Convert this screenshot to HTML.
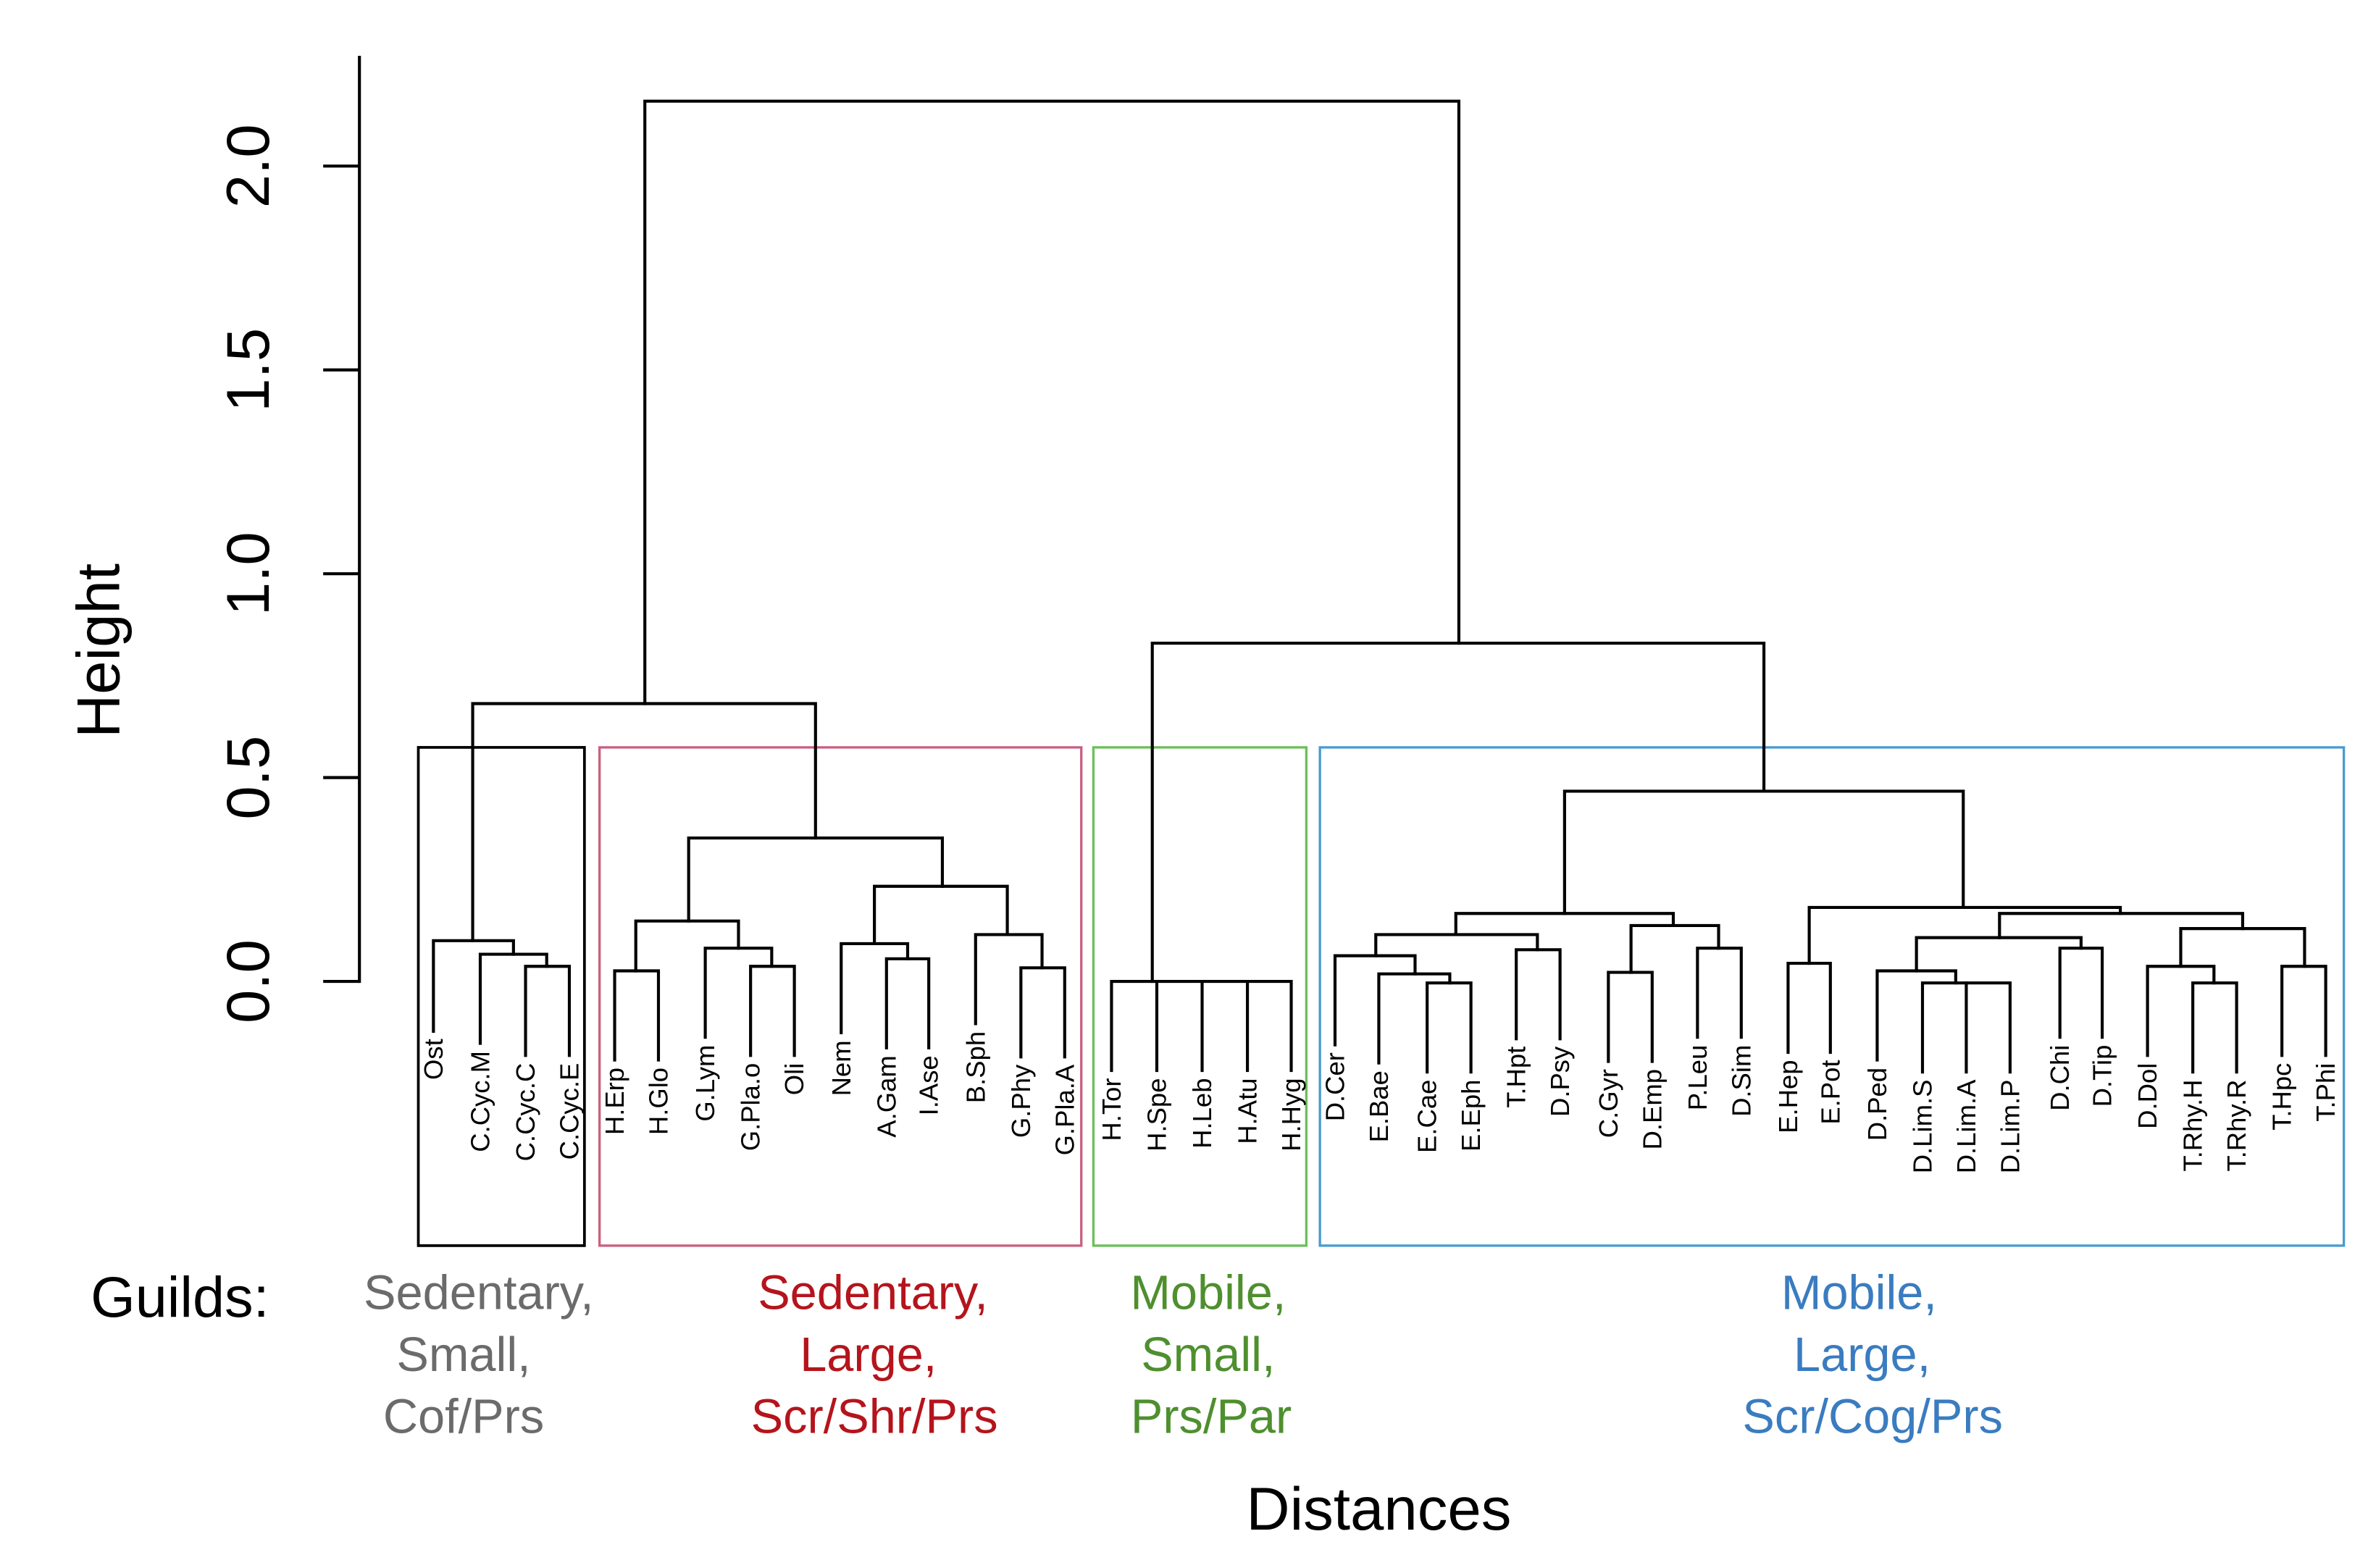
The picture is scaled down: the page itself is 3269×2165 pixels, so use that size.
<!DOCTYPE html>
<html><head><meta charset="utf-8"><style>
html,body{margin:0;padding:0;background:#fff;}
svg{display:block;}
text{font-family:"Liberation Sans",Arial,sans-serif;}
</style></head><body>
<svg width="3269" height="2165" viewBox="0 0 1568 1038.5" preserveAspectRatio="none" xmlns="http://www.w3.org/2000/svg">
<rect width="1568" height="1044" fill="#fff"/>
<!-- axis -->
<g stroke="#000" stroke-width="2" fill="none">
<line x1="238" y1="37" x2="238" y2="651"/>
<line x1="214" y1="650" x2="238" y2="650"/>
<line x1="214" y1="515" x2="238" y2="515"/>
<line x1="214" y1="380" x2="238" y2="380"/>
<line x1="214" y1="245" x2="238" y2="245"/>
<line x1="214" y1="110" x2="238" y2="110"/>
</g>
<g font-size="40" fill="#000" text-anchor="middle">
<text transform="translate(178,650) rotate(-90)">0.0</text>
<text transform="translate(178,515) rotate(-90)">0.5</text>
<text transform="translate(178,380) rotate(-90)">1.0</text>
<text transform="translate(178,245) rotate(-90)">1.5</text>
<text transform="translate(178,110) rotate(-90)">2.0</text>
<text transform="translate(79,431) rotate(-90)" font-size="40">Height</text>
</g>
<!-- boxes -->
<rect x="277" y="495" width="110" height="330" fill="none" stroke="#000" stroke-width="1.8"/>
<rect x="397" y="495" width="319" height="330" fill="none" stroke="#c9607e" stroke-width="1.6"/>
<rect x="724" y="495" width="141" height="330" fill="none" stroke="#6cbf5a" stroke-width="1.6"/>
<rect x="874" y="495" width="678" height="330" fill="none" stroke="#4a9bd0" stroke-width="1.6"/>
<!-- tree -->
<g stroke="#000" stroke-width="2" fill="none" stroke-linecap="square">
<path d="M427,466 V67 H966 V426"/>
<path d="M313,495 V466 H540 V555"/>
<path d="M313,495 V623"/>
<path d="M287,683 V623 H340 V632"/>
<path d="M318,691 V632 H362 V640"/>
<path d="M348,699 V640 H377 V699"/>
<path d="M456,610 V555 H624 V587"/>
<path d="M421,643 V610 H489 V628"/>
<path d="M407,702 V643 H436 V702"/>
<path d="M467,687 V628 H511 V640"/>
<path d="M497,699 V640 H526 V699"/>
<path d="M579,625 V587 H667 V619"/>
<path d="M557,684 V625 H601 V635"/>
<path d="M587,694 V635 H615 V694"/>
<path d="M646,678 V619 H690 V641"/>
<path d="M676,700 V641 H705 V700"/>
<path d="M763,650 V426 H1168 V524"/>
<path d="M736,709 V650 H855 V709"/>
<path d="M766,650 V709 M796,650 V709 M826,650 V709"/>
<path d="M1036,605 V524 H1300 V601"/>
<path d="M964,619 V605 H1108 V613"/>
<path d="M911,633 V619 H1018 V629"/>
<path d="M884,692 V633 H937 V645"/>
<path d="M913,704 V645 H960 V651"/>
<path d="M945,710 V651 H974 V710"/>
<path d="M1004,688 V629 H1033 V688"/>
<path d="M1080,644 V613 H1138 V628"/>
<path d="M1065,703 V644 H1094 V703"/>
<path d="M1124,687 V628 H1153 V687"/>
<path d="M1198,638 V601 H1404 V605"/>
<path d="M1184,697 V638 H1212 V697"/>
<path d="M1324,621 V605 H1485 V615"/>
<path d="M1269,643 V621 H1378 V628"/>
<path d="M1243,702 V643 H1295 V651"/>
<path d="M1273,710 V651 H1331 V710"/>
<path d="M1302,651 V710"/>
<path d="M1364,687 V628 H1392 V687"/>
<path d="M1444,640 V615 H1526 V640"/>
<path d="M1422,699 V640 H1466 V651"/>
<path d="M1452,710 V651 H1481 V710"/>
<path d="M1511,699 V640 H1540 V699"/>
</g>
<!-- leaf labels -->
<g font-size="17.5" fill="#000" text-anchor="end">
<text transform="translate(293,688) rotate(-90)">Ost</text>
<text transform="translate(324,696) rotate(-90)">C.Cyc.M</text>
<text transform="translate(354,704) rotate(-90)">C.Cyc.C</text>
<text transform="translate(383,704) rotate(-90)">C.Cyc.E</text>
<text transform="translate(413,707) rotate(-90)">H.Erp</text>
<text transform="translate(442,707) rotate(-90)">H.Glo</text>
<text transform="translate(473,692) rotate(-90)">G.Lym</text>
<text transform="translate(503,704) rotate(-90)">G.Pla.o</text>
<text transform="translate(532,704) rotate(-90)">Oli</text>
<text transform="translate(563,689) rotate(-90)">Nem</text>
<text transform="translate(593,699) rotate(-90)">A.Gam</text>
<text transform="translate(621,699) rotate(-90)">I.Ase</text>
<text transform="translate(652,683) rotate(-90)">B.Sph</text>
<text transform="translate(682,705) rotate(-90)">G.Phy</text>
<text transform="translate(711,705) rotate(-90)">G.Pla.A</text>
<text transform="translate(742,714) rotate(-90)">H.Tor</text>
<text transform="translate(772,714) rotate(-90)">H.Spe</text>
<text transform="translate(802,714) rotate(-90)">H.Leb</text>
<text transform="translate(832,714) rotate(-90)">H.Atu</text>
<text transform="translate(861,714) rotate(-90)">H.Hyg</text>
<text transform="translate(890,697) rotate(-90)">D.Cer</text>
<text transform="translate(919,709) rotate(-90)">E.Bae</text>
<text transform="translate(951,715) rotate(-90)">E.Cae</text>
<text transform="translate(980,715) rotate(-90)">E.Eph</text>
<text transform="translate(1010,693) rotate(-90)">T.Hpt</text>
<text transform="translate(1039,693) rotate(-90)">D.Psy</text>
<text transform="translate(1071,708) rotate(-90)">C.Gyr</text>
<text transform="translate(1100,708) rotate(-90)">D.Emp</text>
<text transform="translate(1130,692) rotate(-90)">P.Leu</text>
<text transform="translate(1159,692) rotate(-90)">D.Sim</text>
<text transform="translate(1190,702) rotate(-90)">E.Hep</text>
<text transform="translate(1218,702) rotate(-90)">E.Pot</text>
<text transform="translate(1249,707) rotate(-90)">D.Ped</text>
<text transform="translate(1279,715) rotate(-90)">D.Lim.S</text>
<text transform="translate(1308,715) rotate(-90)">D.Lim.A</text>
<text transform="translate(1337,715) rotate(-90)">D.Lim.P</text>
<text transform="translate(1370,692) rotate(-90)">D.Chi</text>
<text transform="translate(1398,692) rotate(-90)">D.Tip</text>
<text transform="translate(1428,704) rotate(-90)">D.Dol</text>
<text transform="translate(1458,715) rotate(-90)">T.Rhy.H</text>
<text transform="translate(1487,715) rotate(-90)">T.Rhy.R</text>
<text transform="translate(1517,704) rotate(-90)">T.Hpc</text>
<text transform="translate(1546,704) rotate(-90)">T.Phi</text>
</g>
<!-- guilds -->
<text x="60" y="872" font-size="38" fill="#000">Guilds:</text>
<g font-size="32" text-anchor="middle">
<g fill="#6b6b6b">
<text x="317" y="867">Sedentary,</text><text x="307" y="908">Small,</text><text x="307" y="949">Cof/Prs</text></g>
<g fill="#b5141c">
<text x="578" y="867">Sedentary,</text><text x="575" y="908">Large,</text><text x="579" y="949">Scr/Shr/Prs</text></g>
<g fill="#4e8f2e">
<text x="800" y="867">Mobile,</text><text x="800" y="908">Small,</text><text x="802" y="949">Prs/Par</text></g>
<g fill="#3a7cc0">
<text x="1231" y="867">Mobile,</text><text x="1233" y="908">Large,</text><text x="1240" y="949">Scr/Cog/Prs</text></g>
</g>
<text x="913" y="1013" font-size="40" text-anchor="middle" fill="#000">Distances</text>
</svg>
</body></html>
